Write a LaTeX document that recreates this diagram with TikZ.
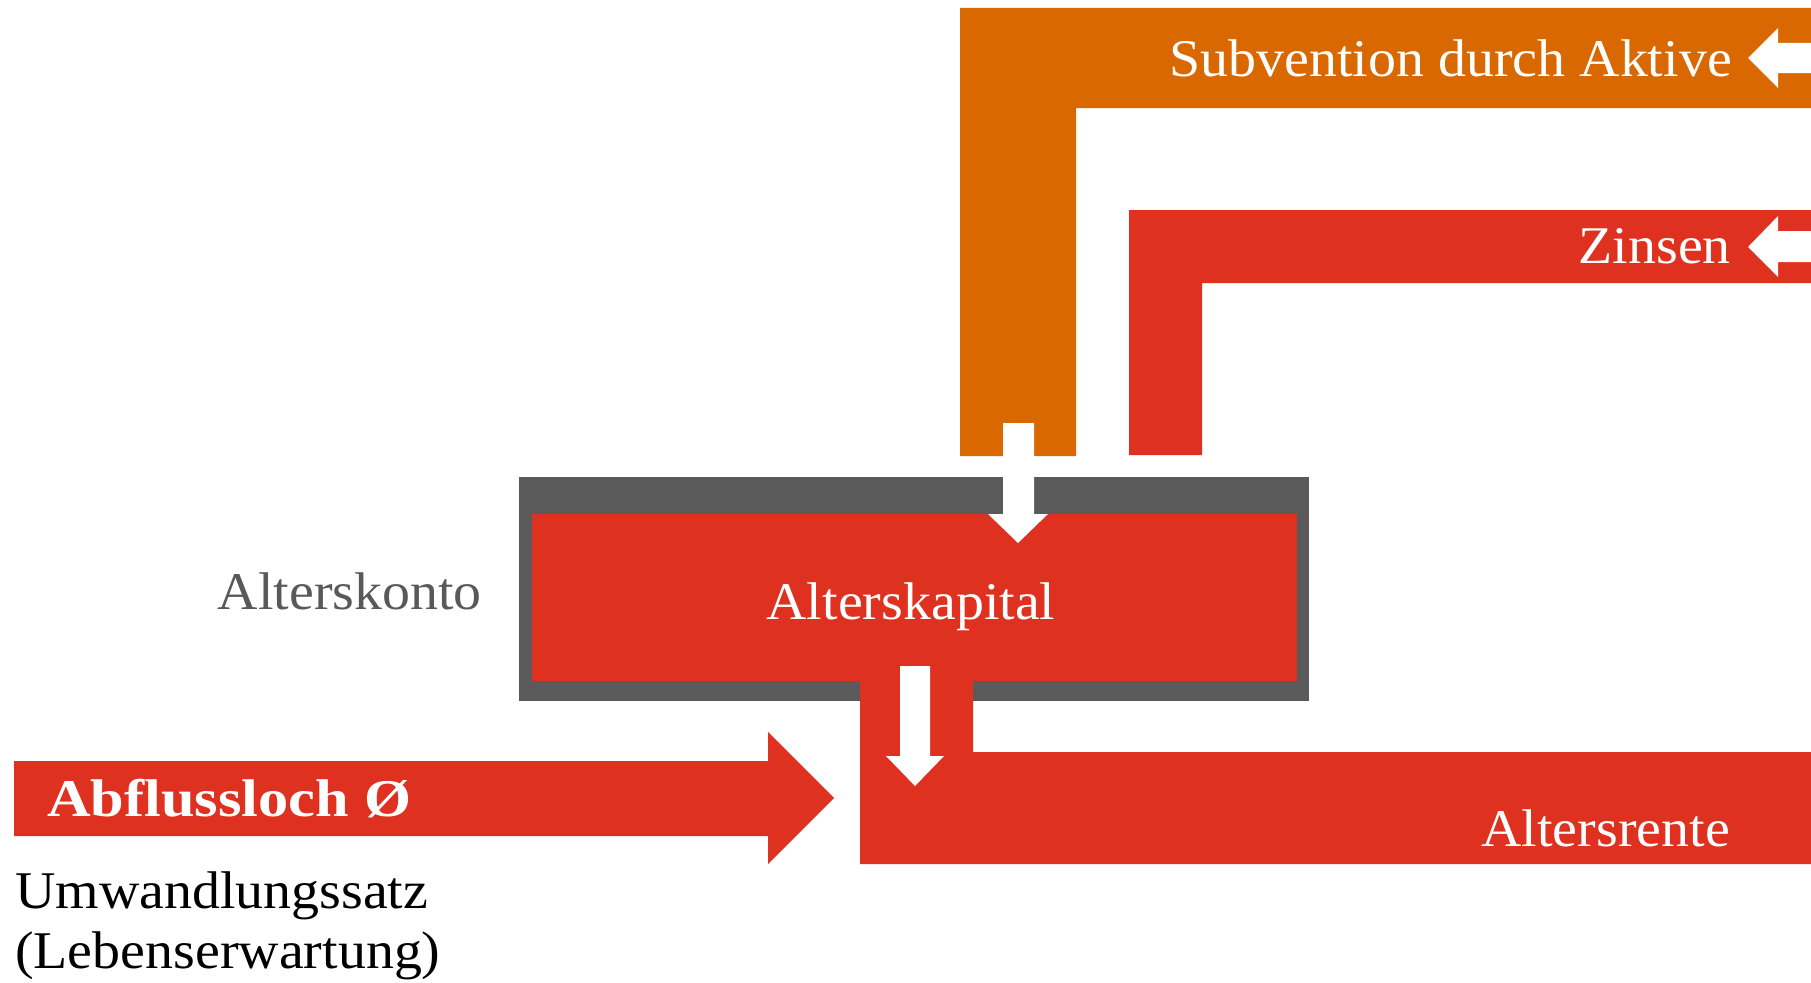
\documentclass[tikz,border=0pt]{standalone}
\usepackage{fontspec}
\usepackage{graphicx}
\setmainfont[FakeStretch=1.055]{Liberation Serif}
\definecolor{cOrange}{HTML}{DA6800}
\definecolor{cRed}{HTML}{DF311F}
\definecolor{cGray}{HTML}{5A5A5A}
\definecolor{cText}{HTML}{595959}
\begin{document}
\begin{tikzpicture}[x=1pt,y=-1pt,
  lbl/.style={inner sep=0pt,font=\fontsize{53}{60}\selectfont},
  wlbl/.style={lbl,text=white},
  flow/.style={fill=cRed,draw=none},
  tip/.style={fill=white,draw=none}]
\useasboundingbox (0,0) rectangle (1811,982);
% orange subvention band
\fill[cOrange] (960,8) -- (1811,8) -- (1811,108) -- (1076,108) -- (1076,456) -- (960,456) -- cycle;
\fill[tip] (1811,43) -- (1778,43) -- (1778,28) -- (1748,58) -- (1778,88) -- (1778,73) -- (1811,73) -- cycle;
% red Zinsen band
\fill[flow] (1129,210) -- (1811,210) -- (1811,283) -- (1202,283) -- (1202,455) -- (1129,455) -- cycle;
\fill[tip] (1811,231) -- (1778,231) -- (1778,216) -- (1748,247) -- (1778,277) -- (1778,262) -- (1811,262) -- cycle;
% account box
\fill[cGray] (519,477) rectangle (1309,701);
\fill[cRed] (532,514) rectangle (1297,681);
% inflow arrow
\fill[tip] (1003,423) -- (1034,423) -- (1034,514) -- (1048,514) -- (1018,543) -- (988,514) -- (1003,514) -- cycle;
% outflow band
\fill[flow] (860,681) -- (973,681) -- (973,752) -- (1811,752) -- (1811,864) -- (860,864) -- cycle;
\fill[tip] (900,666) -- (930,666) -- (930,756) -- (944,756) -- (915,786) -- (886,756) -- (900,756) -- cycle;
% Abflussloch arrow
\fill[flow] (14,761) -- (768,761) -- (768,732) -- (834,798) -- (768,864) -- (768,836) -- (14,836) -- cycle;
% labels
\node[wlbl,anchor=base east] (sub) at (1732,76) {Subvention durch Aktive};
\node[wlbl,anchor=base east] (zin) at (1731,263) {Zinsen};
\node[wlbl,anchor=base] (kap) at (911,619) {Alterskapital};
\node[wlbl,anchor=base east] (ren) at (1730,846) {Altersrente};
\node[lbl,text=cText,anchor=base east] (kto) at (482,609) {Alterskonto};
\node[wlbl,anchor=base west] (abf) at (47,816) {\scalebox{1.08}[1]{\bfseries Abflussloch Ø}};
\node[lbl,anchor=base west] (umw) at (15,908) {Umwandlungssatz};
\node[lbl,anchor=base west] (leb) at (15,968) {(Lebenserwartung)};
\end{tikzpicture}
\end{document}
